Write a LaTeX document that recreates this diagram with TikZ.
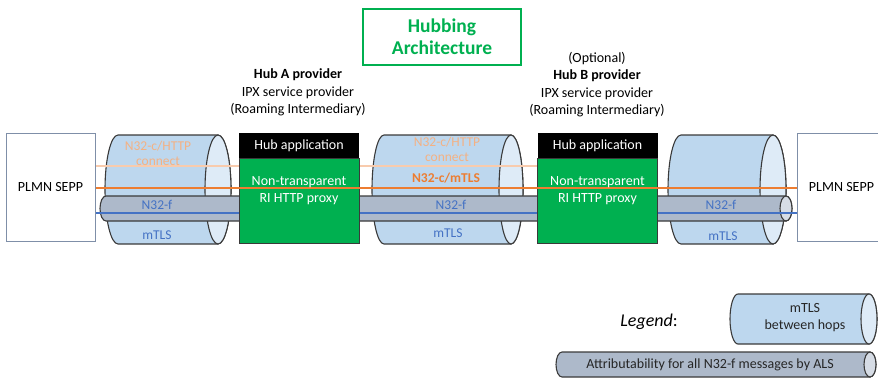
\documentclass[tikz,border=0pt]{standalone}
\usepackage{fontspec}
\setmainfont{Carlito}
\usetikzlibrary{positioning}
\pgfdeclarelayer{background}
\pgfdeclarelayer{wires}
\pgfsetlayers{background,wires,main}

\begin{document}
\begin{tikzpicture}[x=1pt,y=-1pt]
      \definecolor{hopblue}{HTML}{BDD7EE}
      \definecolor{hopblueend}{HTML}{DEEBF7}
      \definecolor{tubegrey}{HTML}{ADB9CA}
      \definecolor{tubegreyend}{HTML}{D6DCE5}
      \definecolor{proxygreen}{HTML}{00B050}
      \definecolor{myorange}{HTML}{ED7D31}
      \definecolor{mylightorange}{HTML}{F4B183}
      \definecolor{mypaleorange}{HTML}{F8CBAD}
      \definecolor{myblue}{HTML}{4472C4}
      \definecolor{myslate}{HTML}{7F8FA8}
      \definecolor{myedge}{HTML}{3A3A3A}

      \tikzset{
        title/.style={draw=proxygreen,line width=1.5pt,text=proxygreen,align=center,
          minimum width=158pt,minimum height=56pt,font=\bfseries\fontsize{19.5}{22}\selectfont},
        prov/.style={align=center,font=\fontsize{14}{17.5}\selectfont},
        sepp/.style={draw=myslate,line width=1pt,fill=white,minimum width=89pt,
          minimum height=108pt,font=\fontsize{14}{17}\selectfont},
        app/.style={fill=black,text=white,minimum width=120pt,minimum height=25pt,
          font=\fontsize{14}{17}\selectfont},
        proxy/.style={fill=proxygreen,draw=myedge,line width=.8pt,minimum width=120pt,minimum height=85pt},
        proxytxt/.style={text=white,align=center,font=\fontsize{14}{17}\selectfont},
        hoptxt/.style={align=center,inner sep=1pt,font=\fontsize{13.5}{15}\selectfont},
        legtxt/.style={align=center,inner sep=1pt,text=black!85,font=\fontsize{14}{17}\selectfont},
        httpline/.style={mypaleorange,line width=1.4pt},
        tlsline/.style={myorange,line width=1.8pt},
        fline/.style={myblue,line width=1.3pt}
      }

      % #1 left, #2 right, #3 top, #4 bottom, #5 end radius, #6 body, #7 end
      \def\hop#1#2#3#4#5#6#7{
        \filldraw[fill=#6,draw=myedge,line width=1.1pt]
        (#1,#3) arc[start angle=270,end angle=90,x radius=#5,y radius={(#4-#3)/2}]
        -- (#2,#4) arc[start angle=90,end angle=-90,x radius=#5,y radius={(#4-#3)/2}] -- cycle;
        \filldraw[fill=#7,draw=myedge,line width=1.1pt]
        (#2,{(#3+#4)/2}) ellipse[x radius=#5,y radius={(#4-#3)/2}];
      }

      \useasboundingbox (0,0) rectangle (878,378);

      % TITLE
      \node[title] (title) at (442,37) {Hubbing\\Architecture};

      % PROVIDERS
      \node[prov] (provA) at (298,92.5)
      {\textbf{Hub A provider}\\IPX service provider\\(Roaming Intermediary)};
      \node[prov] (provB) at (597,84.5)
      {(Optional)\\\textbf{Hub B provider}\\IPX service provider\\(Roaming Intermediary)};

      % SEPPS
      \node[sepp] (sepL) at (50.5,187) {PLMN SEPP};
      \node[sepp] (sepR) at (841.5,187) {PLMN SEPP};

      % HUBS
      \node[app] (appA) at (299,145.5) {Hub application};
      \node[proxy,below=0pt of appA] (hubA) {};
      \node[app] (appB) at (597.5,145.5) {Hub application};
      \node[proxy,below=0pt of appB] (hubB) {};

      % LEVELS
      \coordinate (yhttp) at (0,166);
      \coordinate (ytls) at (0,188);
      \coordinate (yf) at (0,213);

      % HOPS
      \begin{pgfonlayer}{background}
        \hop{118}{218}{135}{244}{13}{hopblue}{hopblueend}
        \hop{384}{511}{135}{244}{12}{hopblue}{hopblueend}
        \hop{681}{773}{135}{244}{13}{hopblue}{hopblueend}
      \end{pgfonlayer}

      % N32-C CONNECT, N32-F TUBE
      \begin{pgfonlayer}{wires}
        \draw[httpline] (sepL.east |- yhttp) -- (hubA.west |- yhttp);
        \draw[httpline] (hubA.east |- yhttp) -- (hubB.west |- yhttp);
        \hop{106}{786}{196}{221}{6}{tubegrey}{tubegreyend}
        \draw[fline] (sepL.east |- yf) -- (sepR.west |- yf);
      \end{pgfonlayer}

      % N32-C MTLS
      \draw[tlsline] (sepL.east |- ytls) -- (sepR.west |- ytls);

      % PROXY TEXT
      \node[proxytxt] (txtA) at (299,190.5) {Non-transparent\\RI HTTP proxy};
      \node[proxytxt] (txtB) at (597.5,190.5) {Non-transparent\\RI HTTP proxy};

      % HOP LABELS
      \node[hoptxt,text=mylightorange] (http1) at (158,153) {N32-c/HTTP\\connect};
      \node[hoptxt,text=mylightorange] (http2) at (447,149) {N32-c/HTTP\\connect};
      \node[hoptxt,text=myorange,font=\bfseries\fontsize{13.5}{15}\selectfont] (tls2) at (446,178) {N32-c/mTLS};
      \node[hoptxt,text=myblue] (f1) at (157,205) {N32-f};
      \node[hoptxt,text=myblue] (f2) at (451,205) {N32-f};
      \node[hoptxt,text=myblue] (f3) at (721,205) {N32-f};
      \node[hoptxt,text=myblue] (mtls1) at (157,235) {mTLS};
      \node[hoptxt,text=myblue] (mtls2) at (448,233) {mTLS};
      \node[hoptxt,text=myblue] (mtls3) at (723,236) {mTLS};

      % LEGEND
      \node[font=\fontsize{18}{21}\selectfont] (legend) at (649,322) {\textit{Legend}:};
      \hop{738}{869}{294}{344}{8}{hopblue}{hopblueend}
      \node[legtxt] (legHop) at (805,318) {mTLS\\between hops};
      \hop{562}{870}{352}{377}{6}{tubegrey}{tubegreyend}
      \node[legtxt] (legTube) at (710,365) {Attributability for all N32-f messages by ALS};

\end{tikzpicture}
\end{document}
